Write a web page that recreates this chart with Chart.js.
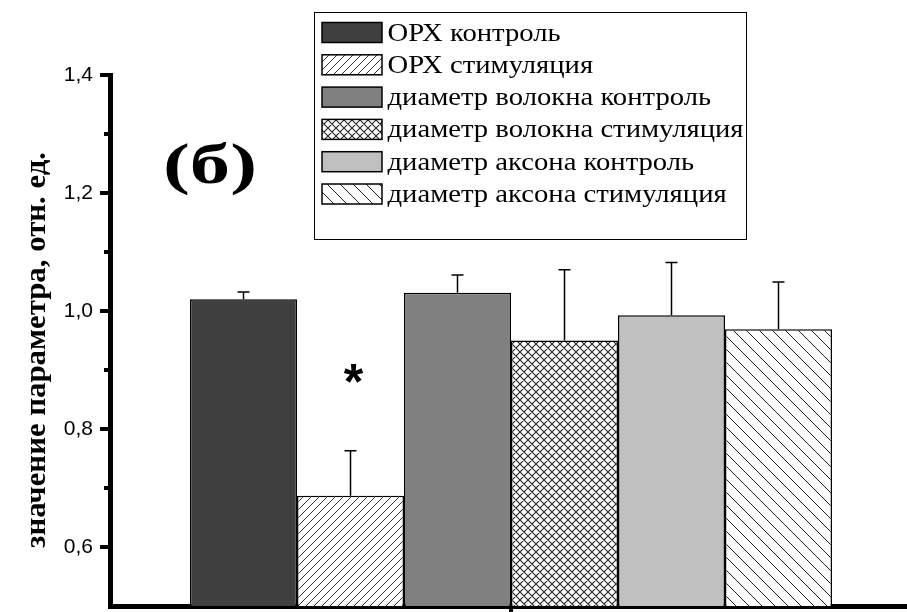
<!DOCTYPE html>
<html><head><meta charset="utf-8">
<script src="https://cdn.jsdelivr.net/npm/chart.js@4.4.1/dist/chart.umd.min.js"></script>
<style>
html,body{margin:0;padding:0;background:#fff;overflow:hidden;width:907px;height:612px}
#c{position:absolute;left:0;top:0;display:block}
</style>
</head><body><canvas id="c" width="912" height="612"></canvas>
<script>
// ---- data ----
const seriesNames = ['ОРХ контроль','ОРХ стимуляция','диаметр волокна контроль','диаметр волокна стимуляция','диаметр аксона контроль','диаметр аксона стимуляция'];
const seriesValues = [1.020, 0.687, 1.031, 0.950, 0.993, 0.969];
const seriesErrors = [0.012, 0.076, 0.030, 0.120, 0.089, 0.080];
const yTickValues = [0.6, 0.8, 1.0, 1.2, 1.4];
const yMinorTickValues = [0.7, 0.9, 1.1, 1.3];
const yTitle = 'значение параметра, отн. ед.';
const panelLabel = '(б)';
const significanceMark = '*';
const markedSeries = 1;

// ---- styles ----
const canvas = document.getElementById('c');
const cctx = canvas.getContext('2d');
function hatch(period, dirs, bg, color, lw){
  const c = document.createElement('canvas'); c.width = period; c.height = period;
  const g = c.getContext('2d');
  g.fillStyle = bg; g.fillRect(0,0,period,period);
  g.strokeStyle = color; g.lineWidth = lw;
  g.beginPath();
  for (const d of dirs){
    for (const off of [-period, 0, period]){
      if (d === '/'){ g.moveTo(off, period); g.lineTo(off+period, 0); }
      else { g.moveTo(off, 0); g.lineTo(off+period, period); }
    }
  }
  g.stroke();
  return cctx.createPattern(c, 'repeat');
}
const fills = [
  '#404040',
  hatch(8, ['/'], '#fff', '#333', 1),
  '#808080',
  hatch(8, ['/','\\'], '#fff', '#222', 1.1),
  '#c0c0c0',
  hatch(13, ['\\'], '#fff', '#222', 1)
];

const SERIF = '"Liberation Serif","Times New Roman",serif';

function stretchedText(ctx, txt, font, x, y, sx, align, baseline){
  ctx.save();
  ctx.font = font; ctx.textAlign = align || 'left'; ctx.textBaseline = baseline || 'alphabetic';
  ctx.fillStyle = '#000';
  ctx.translate(x, y); ctx.scale(sx, 1);
  ctx.fillText(txt, 0, 0);
  ctx.restore();
}

const annot = {
  id: 'annot',
  afterDatasetsDraw(chart){
    const ctx = chart.ctx, ys = chart.scales.y;
    chart.data.datasets.forEach((ds, i) => {
      const bar = chart.getDatasetMeta(i).data[0];
      const top = ys.getPixelForValue(seriesValues[i] + seriesErrors[i]);
      ctx.save();
      ctx.strokeStyle = '#000'; ctx.lineWidth = 1.5;
      ctx.beginPath();
      ctx.moveTo(bar.x, bar.y); ctx.lineTo(bar.x, top);
      ctx.moveTo(bar.x - 6, top); ctx.lineTo(bar.x + 6, top);
      ctx.stroke();
      ctx.restore();
    });
  },
  afterDraw(chart){
    const ctx = chart.ctx, ys = chart.scales.y, ca = chart.chartArea;
    // minor ticks
    ctx.save(); ctx.strokeStyle = '#000'; ctx.lineWidth = 4;
    yMinorTickValues.forEach(v => {
      const p = Math.round(ys.getPixelForValue(v));
      ctx.beginPath(); ctx.moveTo(ca.left - 6, p); ctx.lineTo(ca.left, p); ctx.stroke();
    });
    ctx.restore();

    // y-axis title (rotated)
    ctx.save();
    ctx.font = 'bold 25px ' + SERIF;
    const tw = ctx.measureText(yTitle).width;
    ctx.translate(37, 350); ctx.rotate(-Math.PI/2);
    ctx.scale(396 / tw, 1.22);
    ctx.textAlign = 'center'; ctx.textBaseline = 'middle'; ctx.fillStyle = '#000';
    ctx.fillText(yTitle, 0, 0);
    ctx.restore();

    // panel label
    ctx.save();
    ctx.font = 'bold 58px ' + SERIF;
    const pw = ctx.measureText(panelLabel).width;
    ctx.restore();
    stretchedText(ctx, panelLabel, 'bold 58px ' + SERIF, 210, 183, 94 / pw, 'center', 'alphabetic');

    // significance mark
    const b = chart.getDatasetMeta(markedSeries).data[0];
    const errTop = ys.getPixelForValue(seriesValues[markedSeries] + seriesErrors[markedSeries]);
    ctx.save();
    ctx.font = 'bold 50px "Liberation Sans", Arial, sans-serif';
    ctx.textAlign = 'center'; ctx.textBaseline = 'alphabetic'; ctx.fillStyle = '#000';
    const m = ctx.measureText(significanceMark);
    const cy = errTop - 77;
    ctx.fillText(significanceMark, b.x + 3, cy + (m.actualBoundingBoxAscent - m.actualBoundingBoxDescent)/2);
    ctx.restore();

    // legend
    const bx = 314, by = 12, bw = 432, bh = 227;
    ctx.save();
    ctx.strokeStyle = '#000'; ctx.lineWidth = 1;
    ctx.strokeRect(bx + 0.5, by + 0.5, bw, bh);
    ctx.font = '26px ' + SERIF;
    let maxW = 0;
    chart.data.datasets.forEach(ds => { maxW = Math.max(maxW, ctx.measureText(ds.label).width); });
    const sx = 356 / maxW;
    chart.data.datasets.forEach((ds, i) => {
      const cyr = 32.5 + i * 32.3;
      ctx.fillStyle = ds.backgroundColor;
      ctx.fillRect(322, cyr - 10, 60, 20);
      ctx.strokeStyle = '#000'; ctx.lineWidth = 1.5;
      ctx.strokeRect(322, cyr - 10, 60, 20);
      stretchedText(ctx, ds.label, '26px ' + SERIF, 387.5, cyr + 8, sx, 'left', 'alphabetic');
    });
    ctx.restore();
  }
};

const datasets = seriesNames.map((n, i) => ({
  label: n,
  data: [seriesValues[i]],
  backgroundColor: fills[i],
  borderColor: '#000',
  borderWidth: 1.5
}));

function zeroPad(s){ s.paddingTop = 0; s.paddingBottom = 0; s.paddingLeft = 0; s.paddingRight = 0; }

new Chart(canvas, {
  type: 'bar',
  data: { labels: [''], datasets },
  options: {
    responsive: false, animation: false, devicePixelRatio: 1,
    layout: { padding: { top: 75, left: 0, right: 0, bottom: 0 } },
    plugins: { legend: { display: false }, tooltip: { enabled: false } },
    datasets: { bar: { categoryPercentage: 642/802, barPercentage: 1 } },
    scales: {
      x: {
        type: 'category', offset: true,
        grid: { display: true, offset: false, drawOnChartArea: false, drawTicks: true, tickLength: 7, lineWidth: 4, color: '#000' },
        border: { display: true, width: 5, color: '#000' },
        ticks: { display: false },
        afterFit(s){ s.height = 6; zeroPad(s); }
      },
      y: {
        min: 0.5, max: 1.4,
        afterBuildTicks(s){ s.ticks = yTickValues.map(v => ({ value: v })); },
        ticks: {
          callback: v => Number(v).toFixed(1).replace('.', ','),
          font: { family: '"Liberation Sans", Arial, sans-serif', size: 21 },
          color: '#000', padding: 7
        },
        grid: { drawOnChartArea: false, drawTicks: true, tickLength: 10, lineWidth: 4, color: '#000' },
        border: { display: true, width: 5, color: '#000' },
        afterFit(s){ s.width = 110; zeroPad(s); }
      }
    }
  },
  plugins: [annot]
});
</script>
</body></html>
